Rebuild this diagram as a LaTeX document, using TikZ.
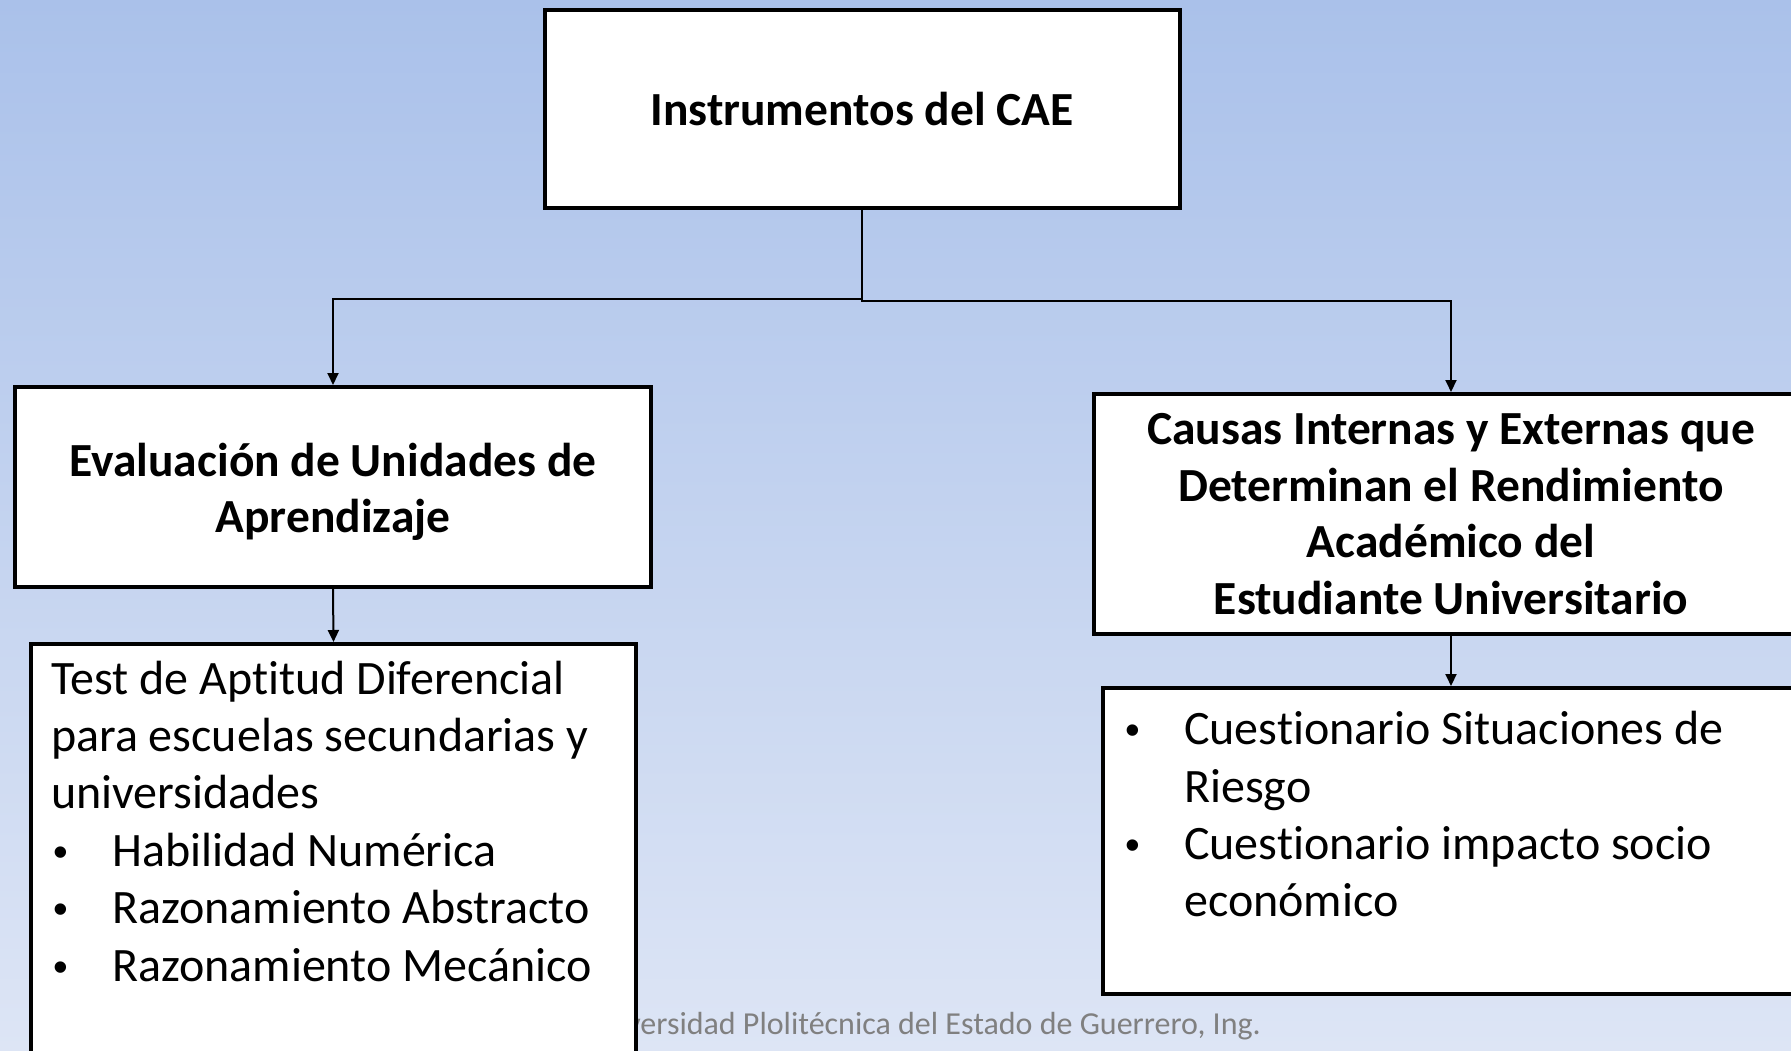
\documentclass[tikz,border=0pt]{standalone}
\usepackage{fontspec}
\setmainfont[Ligatures=NoCommon]{Carlito}
\newfontfamily\bulfont{Liberation Sans}
\usetikzlibrary{arrows.meta,calc}
\definecolor{bgtop}{RGB}{170,193,234}
\definecolor{bgbot}{RGB}{221,229,245}
\definecolor{foot}{RGB}{128,128,128}
\tikzset{
  box/.style={draw=black,line width=4pt,fill=white,inner sep=0pt},
  conn/.style={draw=black,line width=2pt,-{Triangle[length=12pt,width=11pt]}},
  head/.style={font=\bfseries\fontsize{47.5}{56.5}\selectfont,align=center},
  body/.style={font=\fontsize{48}{57}\selectfont,anchor=base west,inner sep=0pt},
  bul/.style={font=\bulfont\fontsize{42}{57}\selectfont,anchor=base west,inner sep=0pt}
}
\begin{document}
\begin{tikzpicture}[x=1pt,y=-1pt]
\useasboundingbox (0,0) rectangle (1791,1051);
\clip (0,0) rectangle (1791,1051);
\shade[top color=bgtop,bottom color=bgbot] (0,0) rectangle (1791,1051);
% footer (partly hidden by the lower left box)
\node[font=\fontsize{32}{38}\selectfont,text=foot,anchor=base east,inner sep=0pt] (foot) at (1261,1034) {Universidad Plolitécnica del Estado de Guerrero, Ing.};
% boxes
\node[box,minimum width=635pt,minimum height=198pt,head] (top) at (862,109) {Instrumentos del CAE};
\node[box,minimum width=636pt,minimum height=200pt] (eval) at (333,487) {};
\node[head,inner sep=0pt] (evaltxt) at ($(eval.center)+(0,5)$) {Evaluación de Unidades de\\Aprendizaje};
\node[box,minimum width=714pt,minimum height=240pt,head] (causas) at (1451,514) {Causas Internas y Externas que\\Determinan el Rendimiento\\Académico del\\Estudiante Universitario};
\node[box,minimum width=605pt,minimum height=460pt] (test) at (333.5,874) {};
\node[box,minimum width=696pt,minimum height=306pt] (cuest) at (1451,841) {};
% connectors
\coordinate (jl) at ($(top.south)+(0,89)$);
\coordinate (jr) at ($(top.south)+(0,91)$);
\draw[conn] (top.south) -- (jl) -| (eval.north);
\draw[conn] (top.south) -- (jr) -| (causas.north);
\draw[conn] (eval.south) -- (test.north);
\draw[conn] (causas.south) -- (cuest.north);
% left list
\node[body] (t1) at (51,694) {Test de Aptitud Diferencial};
\node[body] (t2) at (51,751) {para escuelas secundarias y};
\node[body] (t3) at (51,808) {universidades};
\node[bul] (b1) at (53,866) {•};
\node[body] (t4) at (112,866) {Habilidad Numérica};
\node[bul] (b2) at (53,923) {•};
\node[body] (t5) at (112,923) {Razonamiento Abstracto};
\node[bul] (b3) at (53,981) {•};
\node[body] (t6) at (112,981) {Razonamiento Mecánico};
% right list
\node[bul] (c1) at (1125,744) {•};
\node[body] (r1) at (1184,744) {Cuestionario Situaciones de};
\node[body] (r2) at (1184,802) {Riesgo};
\node[bul] (c2) at (1125,859) {•};
\node[body] (r3) at (1184,859) {Cuestionario impacto socio};
\node[body] (r4) at (1184,916) {económico};
\end{tikzpicture}
\end{document}
